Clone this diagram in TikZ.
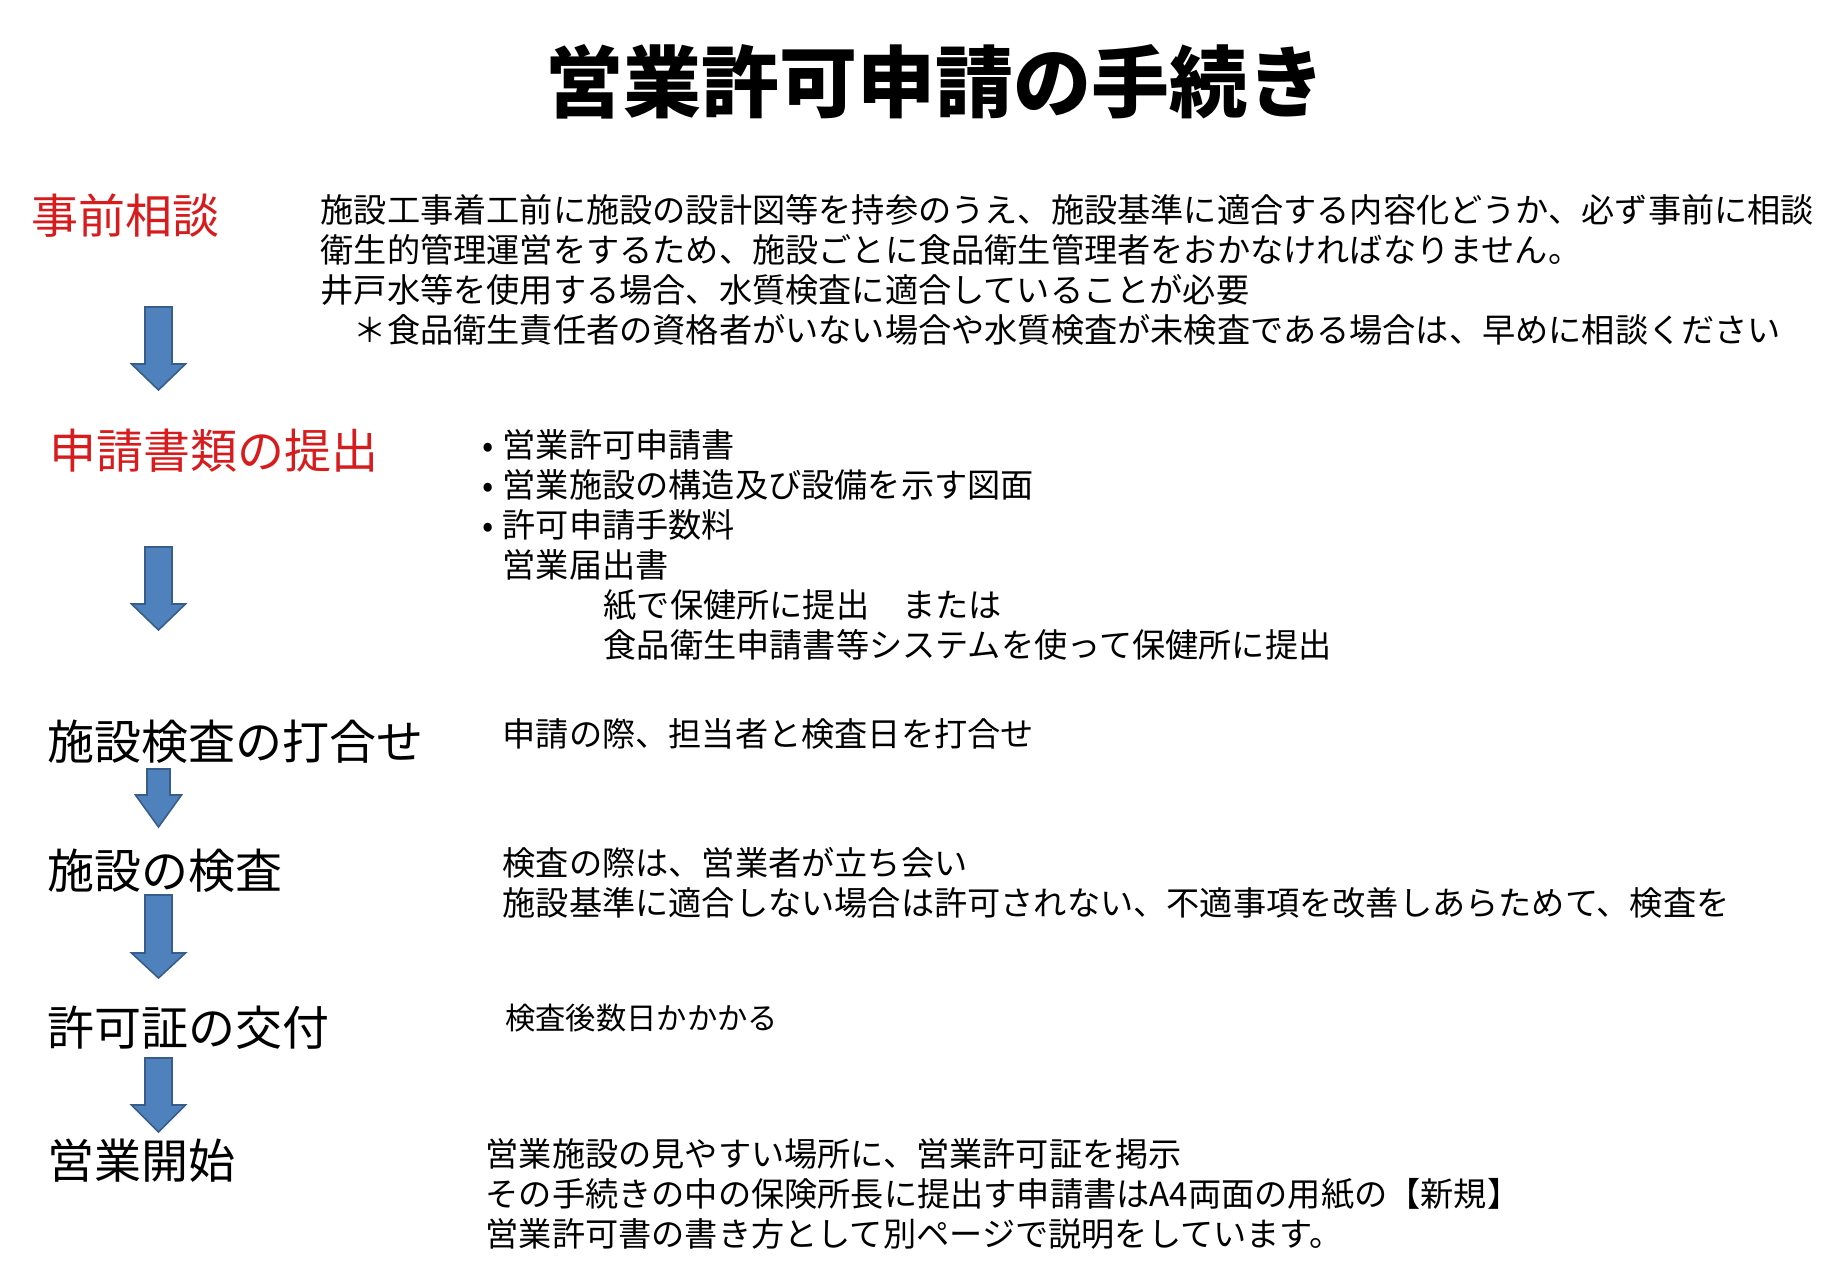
\documentclass[tikz,border=0pt]{standalone}
\usepackage{fontspec}
\setmainfont{Noto Sans CJK JP}
\newfontfamily\jpfont{Noto Sans CJK JP}
\definecolor{labelred}{RGB}{216,28,30}
\definecolor{arrowfill}{RGB}{79,129,189}
\definecolor{arrowline}{RGB}{56,93,138}
\tikzset{
  titletext/.style={inner sep=0pt,anchor=base,font=\jpfont\bfseries\fontsize{78}{90}\selectfont},
  steplabel/.style={inner sep=0pt,anchor=base west,font=\jpfont\fontsize{47}{56}\selectfont},
  redlabel/.style={steplabel,text=labelred},
  bodytext/.style={inner sep=0pt,anchor=base west,font=\jpfont\fontsize{33.2}{40}\selectfont},
  smalltext/.style={inner sep=0pt,anchor=base west,font=\jpfont\fontsize{30.3}{36}\selectfont},
  blockarrow/.style={fill=arrowfill,draw=arrowline,line width=1.6pt,line join=miter}
}
\newcommand{\downarrowshape}[4]{% x center, top, head start, tip
  \draw[blockarrow] ({#1-13.5},#2) -- ({#1+13.5},#2) -- ({#1+13.5},#3) -- ({#1+27},#3)
    -- (#1,#4) -- ({#1-27},#3) -- ({#1-13.5},#3) -- cycle;}
\newcommand{\smalldownarrowshape}[4]{%
  \draw[blockarrow] ({#1-11.5},#2) -- ({#1+11.5},#2) -- ({#1+11.5},#3) -- ({#1+23},#3)
    -- (#1,#4) -- ({#1-23},#3) -- ({#1-11.5},#3) -- cycle;}
\newcommand{\bul}{\llap{•\hspace{9pt}}}
\begin{document}
\begin{tikzpicture}[x=1pt,y=-1pt]
\useasboundingbox (0,0) rectangle (1838,1274);
\fill[white] (0,0) rectangle (1838,1274);

% title
\node[titletext] (title) at (935,111) {営業許可申請の手続き};

% step labels
\node[redlabel] (s1) at (31,233) {事前相談};
\node[redlabel] (s2) at (49,468) {申請書類の提出};
\node[steplabel] (s3) at (47,759) {施設検査の打合せ};
\node[steplabel] (s4) at (47,888) {施設の検査};
\node[steplabel] (s5) at (47,1045) {許可証の交付};
\node[steplabel] (s6) at (47,1178) {営業開始};

% arrows
\downarrowshape{158.5}{307}{364}{390}
\downarrowshape{158.5}{547}{604}{630}
\smalldownarrowshape{158.5}{769}{795}{827}
\downarrowshape{158.5}{895}{953}{978}
\downarrowshape{158.5}{1058}{1105}{1132}

% step 1 text
\node[bodytext] (a1) at (320.5,222) {施設工事着工前に施設の設計図等を持参のうえ、施設基準に適合する内容化どうか、必ず事前に相談};
\node[bodytext] (a2) at (320.5,262) {衛生的管理運営をするため、施設ごとに食品衛生管理者をおかなければなりません。};
\node[bodytext] (a3) at (320.5,302) {井戸水等を使用する場合、水質検査に適合していることが必要};
\node[bodytext] (a4) at (320.5,342) {　＊食品衛生責任者の資格者がいない場合や水質検査が未検査である場合は、早めに相談ください};

% step 2 text
\node[bodytext] (b1) at (502.5,457) {\bul 営業許可申請書};
\node[bodytext] (b2) at (502.5,497) {\bul 営業施設の構造及び設備を示す図面};
\node[bodytext] (b3) at (502.5,537) {\bul 許可申請手数料};
\node[bodytext] (b4) at (502.5,577) {営業届出書};
\node[bodytext] (b5) at (603.5,617) {紙で保健所に提出　または};
\node[bodytext] (b6) at (603.5,657) {食品衛生申請書等システムを使って保健所に提出};

% step 3 text
\node[bodytext] (c1) at (502.5,746) {申請の際、担当者と検査日を打合せ};

% step 4 text
\node[bodytext] (d1) at (502.5,875) {検査の際は、営業者が立ち会い};
\node[bodytext] (d2) at (502.5,915) {施設基準に適合しない場合は許可されない、不適事項を改善しあらためて、検査を};

% step 5 text
\node[smalltext] (e1) at (505,1029.5) {検査後数日かかかる};

% step 6 text
\node[bodytext] (f1) at (485.5,1166) {営業施設の見やすい場所に、営業許可証を掲示};
\node[bodytext] (f2) at (485.5,1206) {その手続きの中の保険所長に提出す申請書はA4両面の用紙の【新規】};
\node[bodytext] (f3) at (485.5,1246) {営業許可書の書き方として別ページで説明をしています。};
\end{tikzpicture}
\end{document}
